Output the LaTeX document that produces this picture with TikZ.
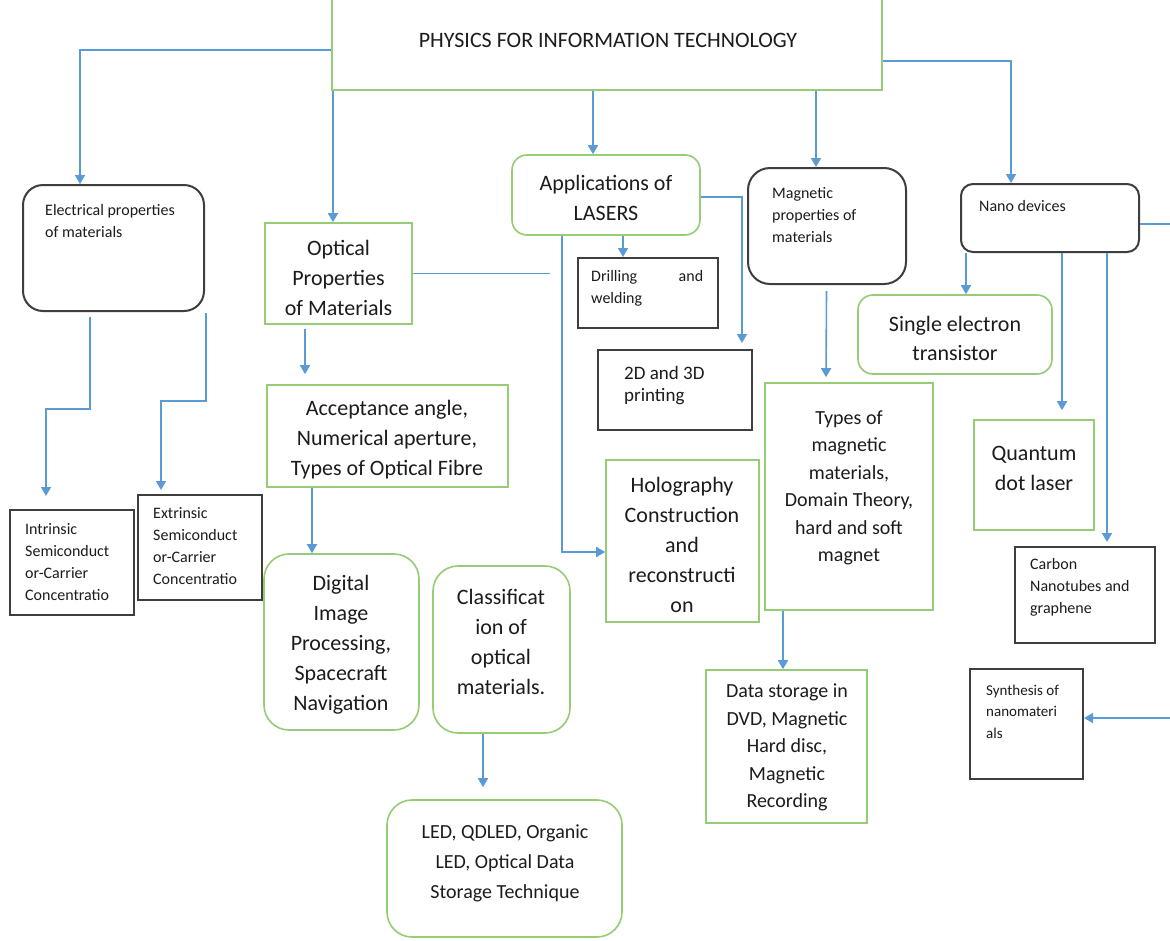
\documentclass[tikz,border=0pt]{standalone}
\usepackage{fontspec}
\setmainfont{Carlito}
\usetikzlibrary{arrows.meta,fit}

\definecolor{linkblue}{RGB}{91,155,213}
\definecolor{leafgreen}{RGB}{150,204,118}
\definecolor{boxgray}{RGB}{62,62,62}
\definecolor{inkgray}{RGB}{28,28,28}

\tikzset{
  gbox/.style={draw=leafgreen, line width=1.6pt, inner sep=0pt},
  kbox/.style={draw=boxgray, line width=2pt, inner sep=0pt},
  link/.style={draw=linkblue, line width=1.6pt, -{Triangle[length=9pt,width=10pt]}},
  plainlink/.style={draw=linkblue, line width=1.6pt},
  txt/.style={text=inkgray, inner sep=0pt},
  bigtxt/.style={txt, align=center, font=\fontsize{22}{30}\selectfont},
  midtxt/.style={txt, align=center, font=\fontsize{20}{27.5}\selectfont},
  smalltxt/.style={txt, align=left, anchor=west, font=\fontsize{16}{22}\selectfont},
}

\begin{document}
\begin{tikzpicture}[x=1pt,y=-1pt]
\useasboundingbox (0,0) rectangle (1170,940);
\fill[white] (0,0) rectangle (1170,940);
\clip (0,0) rectangle (1170,940);

% ---------- boxes ----------
% the title box runs past the top edge of the page
\node[gbox, fit={(332,-5) (882,90)}] (title) {};
\node[kbox, rounded corners=20pt, fit={(23,185) (204,311)}] (elec) {};
\node[kbox, fit={(10,510) (134,615)}] (intr) {};
\node[kbox, fit={(138,495) (262,600)}] (extr) {};
\node[gbox, fit={(265,223) (412,324)}] (opt) {};
\node[gbox, fit={(267,385) (508,487)}] (acc) {};
\node[gbox, rounded corners=25pt, fit={(264,554) (419,730)}] (dig) {};
\node[gbox, rounded corners=25pt, fit={(433,566) (570,733)}] (cls) {};
\node[gbox, rounded corners=25pt, fit={(387,800) (622,937)}] (led) {};
\node[gbox, rounded corners=15pt, fit={(512,155) (700,235)}] (las) {};
\node[kbox, fit={(578,258) (718,328)}] (drl) {};
\node[kbox, fit={(598,350) (752,430)}] (ptd) {};
\node[gbox, fit={(606,460) (759,622)}] (holo) {};
\node[kbox, rounded corners=22pt, fit={(748,168) (906,284)}] (mag) {};
\node[gbox, fit={(765,383) (933,610)}] (typ) {};
\node[gbox, fit={(706,670) (867,823)}] (dat) {};
\node[kbox, rounded corners=12pt, fit={(961,184) (1139,252)}] (nano) {};
\node[gbox, rounded corners=15pt, fit={(858,295) (1052,374)}] (setr) {};
\node[gbox, fit={(974,420) (1094,530)}] (qdl) {};
\node[kbox, fit={(1015,547) (1155,643)}] (cnt) {};
\node[kbox, fit={(970,669) (1083,779)}] (syn) {};

% ---------- texts ----------
\node[txt, font=\fontsize{22}{26}\selectfont] (ttitle) at (608,40) {PHYSICS FOR INFORMATION TECHNOLOGY};
\node[smalltxt] (telec) at (45,221) {Electrical properties\\of materials};
\node[smalltxt] (tintr) at (25,562) {Intrinsic\\Semiconduct\\or-Carrier\\Concentratio};
\node[smalltxt] (textr) at (153,546) {Extrinsic\\Semiconduct\\or-Carrier\\Concentratio};
\node[bigtxt] (topt) at (338.5,278) {Optical\\Properties\\of Materials};
\node[bigtxt] (tacc) at (387,440) {Acceptance angle,\\Numerical aperture,\\Types of Optical Fibre};
\node[bigtxt] (tdig) at (341,645) {Digital\\Image\\Processing,\\Spacecraft\\Navigation};
\node[bigtxt] (tcls) at (501,642) {Classificat\\ion of\\optical\\materials.};
\node[txt, align=center, font=\fontsize{20}{30}\selectfont] (tled) at (505,863) {LED, QDLED, Organic\\LED, Optical Data\\Storage Technique};
\node[bigtxt] (tlas) at (606,198) {Applications of\\LASERS};
\node[smalltxt, text width=112pt] (tdrl) at (591,288) {Drilling\hfill and\\welding};
\node[txt, align=left, anchor=west, font=\fontsize{19}{22}\selectfont] (tptd) at (624,386) {2D and 3D\\printing};
\node[bigtxt] (tholo) at (682,545) {Holography\\Construction\\and\\reconstructi\\on};
\node[smalltxt] (tmag) at (772,215) {Magnetic\\properties of\\materials};
\node[midtxt] (ttyp) at (849,488) {Types of\\magnetic\\materials,\\Domain Theory,\\hard and soft\\magnet};
\node[midtxt] (tdat) at (787,747.5) {Data storage in\\DVD, Magnetic\\Hard disc,\\Magnetic\\Recording};
\node[smalltxt] (tnano) at (979,206) {Nano devices};
\node[txt, align=center, font=\fontsize{22}{29}\selectfont] (tset) at (955,338.5) {Single electron\\transistor};
\node[bigtxt] (tqdl) at (1034,468) {Quantum\\dot laser};
\node[smalltxt] (tcnt) at (1030,587) {Carbon\\Nanotubes and\\graphene};
\node[txt, align=left, anchor=west, font=\fontsize{15}{21.5}\selectfont] (tsyn) at (986,711.5) {Synthesis of\\nanomateri\\als};

% ---------- connectors ----------
\coordinate (optend) at (550,273);

\draw[link] ([yshift=-7.5pt]title.west) -| ([xshift=-33.5pt]elec.north);
\draw[link] ([xshift=-274pt]title.south) -- ([xshift=-5.5pt]opt.north);
\draw[link] ([xshift=-14pt]title.south) -- ([xshift=-13pt]las.north);
\draw[link] ([xshift=209pt]title.south) -- ([xshift=-11pt]mag.north);
\draw[link] ([yshift=-18.5pt]title.east) -| ([xshift=-39pt]nano.north);

\draw[link, shorten >=13pt] ([xshift=-23.5pt,yshift=-5pt]elec.south) -- ++(0,92) -| ([xshift=-26pt]intr.north);
\draw[link, shorten >=4pt] ([xshift=1pt,yshift=-1pt]elec.south east) -- ++(0,88) -| ([xshift=-39pt]extr.north);

\draw[plainlink] (opt.east) -- (opt.east -| optend);
\draw[link, shorten >=10pt] ([xshift=-33.5pt,yshift=-4pt]opt.south) -- ([xshift=-82.5pt]acc.north);
\draw[link] ([xshift=-75.5pt]acc.south) -- ([xshift=-29.5pt]dig.north);
\draw[link, shorten >=12pt] ([xshift=-18.5pt]cls.south) -- ([xshift=-21.5pt]led.north);

\draw[link] ([xshift=17pt]las.south) -- ([xshift=-25pt]drl.north);
\draw[link, shorten >=6pt] ([yshift=-2pt]las.east) -| ([xshift=67pt]ptd.north);
\draw[link] ([xshift=-44pt]las.south) |- ([yshift=-11pt]holo.west);

\draw[link, shorten >=5pt] ([xshift=-0.5pt,yshift=-6pt]mag.south) -- ([xshift=-23pt]typ.north);
\draw[link] ([xshift=-66pt]typ.south) -- ([xshift=-3.5pt]dat.north);

\draw[link] ([xshift=-84pt]nano.south) -- ([xshift=11pt]setr.north);
\draw[link, shorten >=9pt] ([xshift=12pt]nano.south) -- ([xshift=28pt]qdl.north);
\draw[link, shorten >=4pt] ([xshift=57pt]nano.south) -- ([xshift=22pt]cnt.north);
\draw[link] ([yshift=-6pt]nano.east) -- ++(60,0) |- ([yshift=6pt]syn.east);
\end{tikzpicture}
\end{document}
